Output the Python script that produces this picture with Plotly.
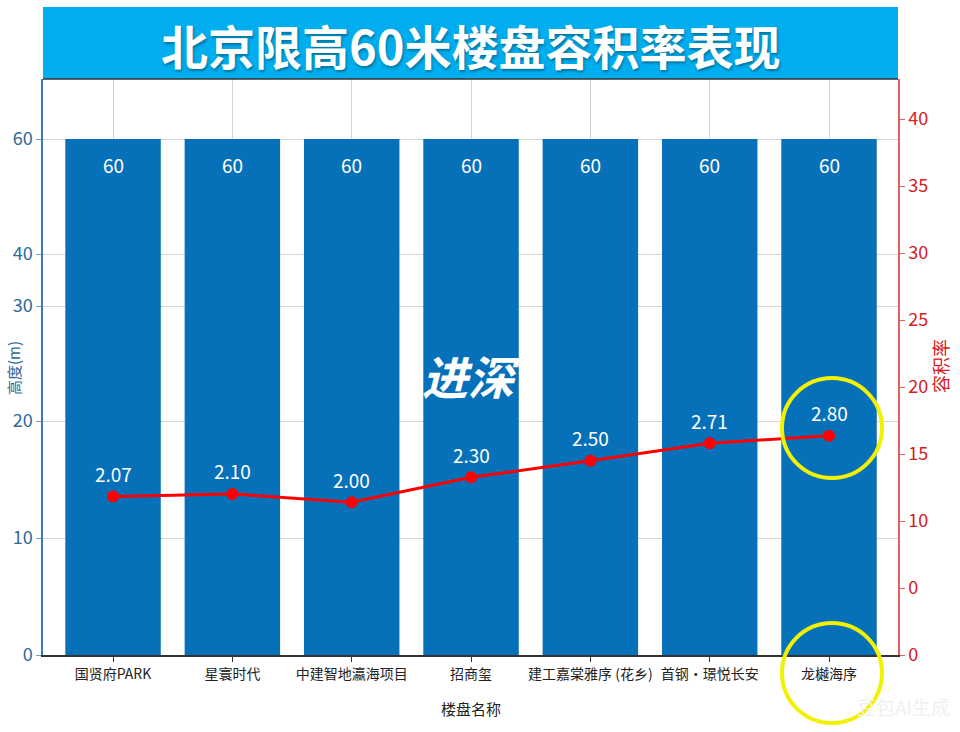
import plotly.graph_objects as go

# ---------------- data ----------------
categories = ["国贤府PARK", "星寰时代", "中建智地瀛海项目", "招商玺",
              "建工嘉棠雅序 (花乡)", "首钢·璟悦长安", "龙樾海序"]
heights = [60, 60, 60, 60, 60, 60, 60]
plot_ratio = [2.07, 2.10, 2.00, 2.30, 2.50, 2.71, 2.80]

left_tick_text = ["0", "10", "20", "30", "40", "60"]
right_tick_text = ["0", "0", "10", "15", "20", "25", "30", "35", "40"]

title_text = "北京限高60米楼盘容积率表现"
x_title = "楼盘名称"
left_title = "高度(m)"
right_title = "容积率"

# ---------------- layout constants (pixels) ----------------
W, H = 960, 732
L, R, T, B = 43, 898, 79, 655
PW, PH = R - L, B - T
FONT = "Noto Sans CJK SC"

def px(x):
    return (x - L) / PW

def py(y):
    return (B - y) / PH

# left axis: value 60 sits at pixel 139
y1_per = (B - 139) / 60.0
y1_top = PH / y1_per
left_tick_pos = [(B - p) / y1_per for p in (655, 538, 421, 306, 254, 139)]
# right axis: 13.4 px per unit
y2_per = 13.4
y2_top = PH / y2_per
right_tick_pos = [0, 5, 10, 15, 20, 25, 30, 35, 40]
# hidden axis for the ratio line
y3_range = [0.162, 0.162 + PH / 83.1]

fig = go.Figure()
fig.add_trace(go.Bar(
    x=categories, y=heights, marker=dict(color="#0670b8", line=dict(width=0)),
    yaxis="y", showlegend=False, hoverinfo="skip"))
fig.add_trace(go.Scatter(
    x=categories, y=plot_ratio, yaxis="y3", mode="lines+markers",
    line=dict(color="#ff0000", width=3), marker=dict(color="#ff0000", size=12),
    showlegend=False, hoverinfo="skip"))
fig.add_trace(go.Scatter(x=[categories[0]], y=[None], yaxis="y2",
                         showlegend=False, hoverinfo="skip"))

annotations = []
def ann(**kw):
    d = dict(showarrow=False, xanchor="center", yanchor="middle")
    d.update(kw)
    annotations.append(d)

for c, h in zip(categories, heights):
    ann(x=c, y=h, xref="x", yref="y", yshift=-25, text=str(h),
        font=dict(family=FONT, size=19, color="white"))
for c, r in zip(categories, plot_ratio):
    ann(x=c, y=r, xref="x", yref="y3", yshift=23, text=f"{r:.2f}",
        font=dict(family=FONT, size=19, color="white"))

# title
ann(x=px(470), y=py(44), xref="paper", yref="paper",
    text=f"<b>{title_text}</b>",
    font=dict(family=FONT, size=47, color="white",
              shadow="1px 2px 3px rgba(0,0,0,0.35)"))
# axis titles
ann(x=px(471), y=py(708), xref="paper", yref="paper", text=x_title,
    font=dict(family=FONT, size=15, color="#222222"))
ann(x=px(13), y=py(368), xref="paper", yref="paper", text=left_title,
    textangle=-90, borderpad=0,
    font=dict(family=FONT, size=15, color="#2d6a9a"))
ann(x=px(940), y=py(366), xref="paper", yref="paper", text=right_title,
    textangle=-90, font=dict(family=FONT, size=18, color="#d42020"))
# watermarks
ann(x=px(471), y=py(375), xref="paper", yref="paper",
    text="<b><i>进深</i></b>", font=dict(family=FONT, size=46, color="white"))
ann(x=px(903), y=py(706), xref="paper", yref="paper", text="豆包AI生成",
    font=dict(family=FONT, size=19, color="#f0f0f0"))

shapes = [
    dict(type="rect", xref="paper", yref="paper", x0=0, x1=1, y0=1.0, y1=py(7),
         fillcolor="#00aeef", line=dict(width=0), layer="below"),
    dict(type="line", xref="paper", yref="paper", x0=0, x1=1, y0=1.0, y1=1.0,
         line=dict(color="#333333", width=1.5), layer="above"),
    dict(type="circle", xref="paper", yref="paper",
         x0=px(782), x1=px(882), y0=py(378), y1=py(478),
         line=dict(color="#f2f200", width=4), layer="above"),
    dict(type="circle", xref="paper", yref="paper",
         x0=px(782), x1=px(882), y0=py(623), y1=py(723),
         line=dict(color="#f2f200", width=4), layer="above"),
]

fig.update_layout(
    width=W, height=H,
    margin=dict(l=L, r=W - R, t=T, b=H - B, pad=0, autoexpand=False),
    paper_bgcolor="white", plot_bgcolor="white",
    bargap=0.2,
    font=dict(family=FONT),
    xaxis=dict(range=[-0.587, 6.578], showgrid=True, gridcolor="#d4d4d4",
               showline=True, linecolor="#333333", linewidth=1.5,
               ticks="outside", ticklen=5, tickcolor="#333333",
               tickangle=0, automargin=False,
               tickfont=dict(family=FONT, size=14, color="#222222"),
               fixedrange=True),
    yaxis=dict(range=[0, y1_top], tickmode="array", tickvals=left_tick_pos,
               ticktext=left_tick_text, showgrid=True, gridcolor="#d4d4d4",
               zeroline=False, showline=True, linecolor="#3c78b4", linewidth=1.5,
               ticks="outside", ticklen=5, tickcolor="#7f9fbf", automargin=False,
               tickfont=dict(family=FONT, size=18, color="#2d6a9a")),
    yaxis2=dict(range=[0, y2_top], overlaying="y", side="right",
                tickmode="array", tickvals=right_tick_pos, ticktext=right_tick_text,
                showgrid=False, zeroline=False, showline=True,
                linecolor="#e06060", linewidth=1.5, automargin=False,
                ticks="outside", ticklen=5, tickcolor="#e06060",
                tickfont=dict(family=FONT, size=18, color="#d42020")),
    yaxis3=dict(range=y3_range, overlaying="y", visible=False),
    annotations=annotations,
    shapes=shapes,
)

fig.write_html("out.html")
